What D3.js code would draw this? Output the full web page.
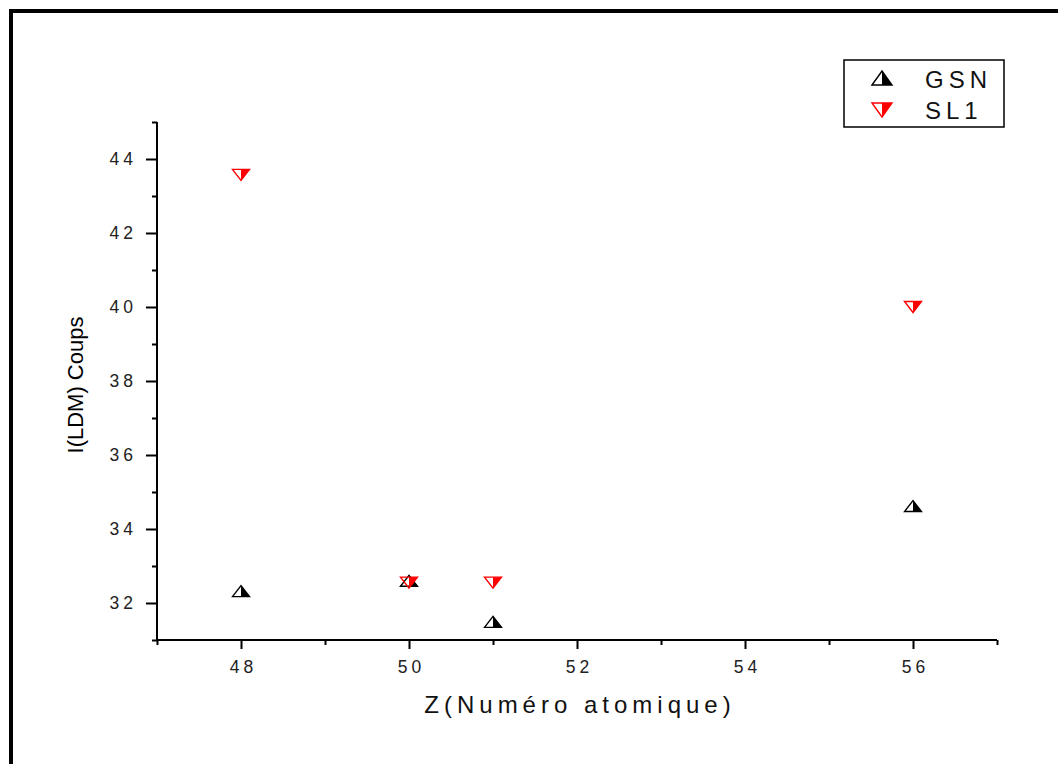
<!DOCTYPE html>
<html><head><meta charset="utf-8">
<script src="https://cdn.jsdelivr.net/npm/d3@7"></script>
<style>body{margin:0;background:#fff}svg{display:block;font-family:"Liberation Sans",Arial,sans-serif}</style>
</head><body>
<svg id="c" width="1058" height="764"></svg>
<script>
const zValues = [48, 50, 51, 56];
const gsnValues = [32.32, 32.6, 31.49, 34.62];
const sl1Values = [43.57, 32.55, 32.55, 40.0];
const seriesNames = ["GSN", "SL1"];
const seriesColors = ["#000000", "#ff0000"];
const xMajorTicks = [48, 50, 52, 54, 56];
const xMinorTicks = [47, 49, 51, 53, 55, 57];
const yMajorTicks = [32, 34, 36, 38, 40, 42, 44];
const yMinorTicks = [31, 33, 35, 37, 39, 41, 43, 45];

const svg = d3.select("#c");
// outer frame (left and top)
svg.append("rect").attr("x", 9).attr("y", 9).attr("width", 1049).attr("height", 4).attr("fill", "#000");
svg.append("rect").attr("x", 9).attr("y", 9).attr("width", 4).attr("height", 755).attr("fill", "#000");

const x = d3.scaleLinear().domain([47, 57]).range([157, 997]);
const y = d3.scaleLinear().domain([31, 45]).range([640, 122]);

const g = svg.append("g");
g.append("line").attr("x1", x(47)).attr("x2", x(57)).attr("y1", y(31)).attr("y2", y(31)).attr("stroke", "#000").attr("stroke-width", 2);
g.append("line").attr("x1", x(47)).attr("x2", x(47)).attr("y1", y(31)).attr("y2", y(45)).attr("stroke", "#000").attr("stroke-width", 2);

const xAxisMajor = d3.axisBottom(x).tickValues(xMajorTicks).tickSize(9).tickFormat(d3.format("d"));
const xAxisMinor = d3.axisBottom(x).tickValues(xMinorTicks).tickSize(5).tickFormat("");
const yAxisMajor = d3.axisLeft(y).tickValues(yMajorTicks).tickSize(11).tickFormat(d3.format("d"));
const yAxisMinor = d3.axisLeft(y).tickValues(yMinorTicks).tickSize(5).tickFormat("");

function styleAxis(sel) {
  sel.select(".domain").remove();
  sel.selectAll(".tick line").attr("stroke", "#000").attr("stroke-width", 2);
  sel.selectAll(".tick text").attr("fill", "#222").style("font-size", "17.5px").style("letter-spacing", "4px").style("font-family", "'Liberation Sans',Arial,sans-serif");
}
g.append("g").attr("transform", `translate(0,${y(31)})`).call(xAxisMajor).call(styleAxis)
  .selectAll(".tick text").attr("dy", "1.2em").attr("dx", "2px");
g.append("g").attr("transform", `translate(0,${y(31)})`).call(xAxisMinor).call(styleAxis);
g.append("g").attr("transform", `translate(${x(47)},0)`).call(yAxisMajor).call(styleAxis)
  .selectAll(".tick text").attr("dx", "-6px");
g.append("g").attr("transform", `translate(${x(47)},0)`).call(yAxisMinor).call(styleAxis);

// axis titles
svg.append("text").attr("x", 580).attr("y", 713).attr("text-anchor", "middle")
  .style("font-size", "24px").style("letter-spacing", "5px").attr("fill", "#111")
  .text("Z(Numéro atomique)");
svg.append("text").attr("transform", "translate(83,385) rotate(-90)").attr("text-anchor", "middle")
  .style("font-size", "22px").attr("fill", "#000").text("I(LDM) Coups");

// markers
function upTri(g, cx, cy, color, hw, hh) {
  const pts = [[cx - hw, cy + hh], [cx, cy - hh], [cx + hw, cy + hh]];
  g.append("path").attr("d", `M${cx},${cy - hh}L${cx + hw},${cy + hh}L${cx},${cy + hh}Z`).attr("fill", color);
  g.append("path").attr("d", "M" + pts.map(p => p.join(",")).join("L") + "Z").attr("fill", "none").attr("stroke", color).attr("stroke-width", 1.4);
}
function downTri(g, cx, cy, color, hw, hh) {
  const pts = [[cx - hw, cy - hh], [cx + hw, cy - hh], [cx, cy + hh]];
  g.append("path").attr("d", `M${cx},${cy - hh}L${cx + hw},${cy - hh}L${cx},${cy + hh}Z`).attr("fill", color);
  g.append("path").attr("d", "M" + pts.map(p => p.join(",")).join("L") + "Z").attr("fill", "none").attr("stroke", color).attr("stroke-width", 1.4);
}
const mg = svg.append("g");
zValues.forEach((z, i) => upTri(mg, x(z), y(gsnValues[i]), seriesColors[0], 8.5, 5.5));
zValues.forEach((z, i) => downTri(mg, x(z), y(sl1Values[i]), seriesColors[1], 8.5, 5.5));

// legend
const lg = svg.append("g");
lg.append("rect").attr("x", 844).attr("y", 60).attr("width", 160).attr("height", 67).attr("fill", "#fff").attr("stroke", "#000").attr("stroke-width", 1.5);
upTri(lg, 882, 78, seriesColors[0], 10, 7);
downTri(lg, 882, 110, seriesColors[1], 10, 7);
seriesNames.forEach((n, i) => {
  lg.append("text").attr("x", 925).attr("y", 88 + i * 31).style("font-size", "24px").style("letter-spacing", "5px").attr("fill", "#111").text(n);
});
</script>
</body></html>
